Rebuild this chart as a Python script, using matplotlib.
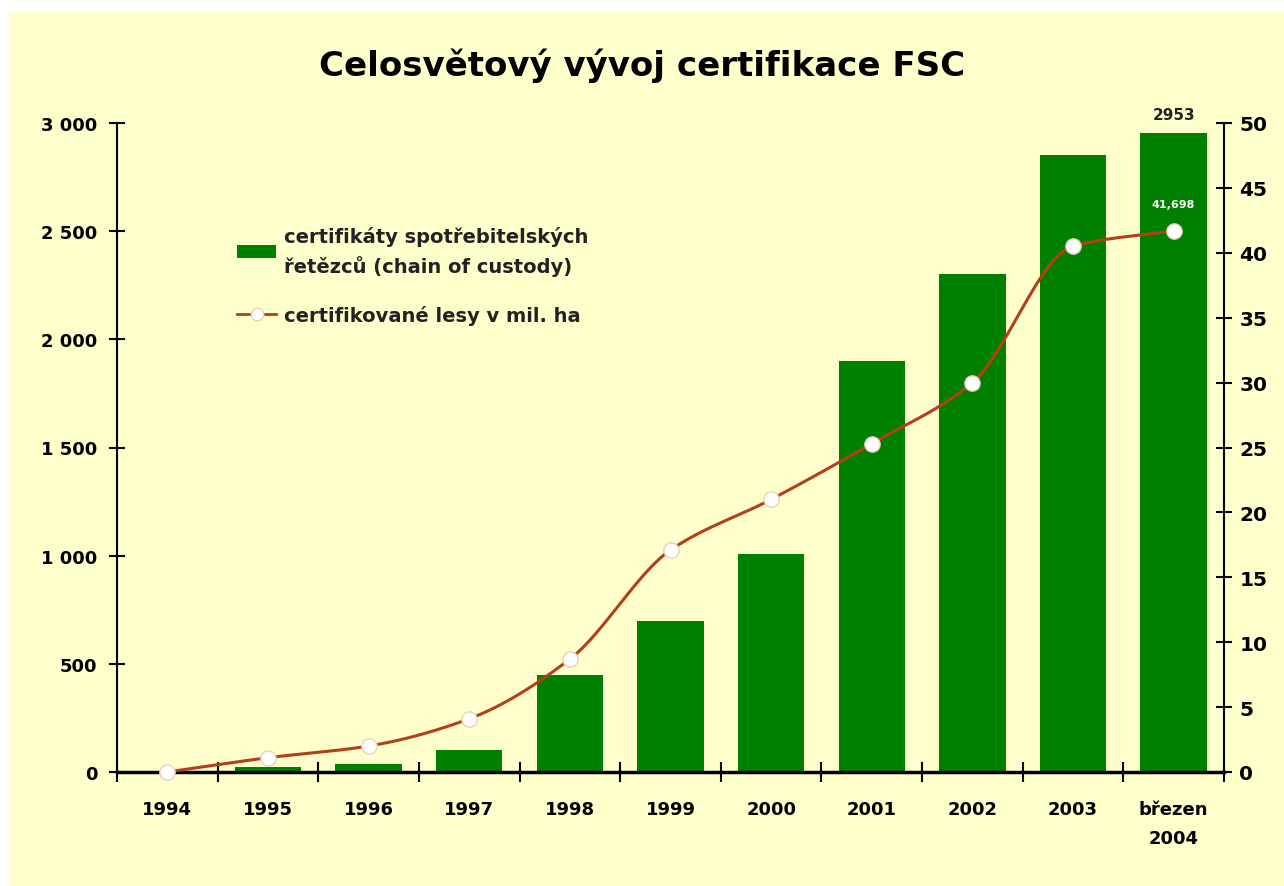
import matplotlib
matplotlib.use("Agg")
import matplotlib.pyplot as plt
from matplotlib.patches import Rectangle
from matplotlib.lines import Line2D
import numpy as np

categories = ["1994", "1995", "1996", "1997", "1998", "1999", "2000",
              "2001", "2002", "2003", "březen\n2004"]
coc_certificates = [0, 25, 38, 100, 450, 700, 1010, 1900, 2300, 2850, 2953]
forest_mil_ha = [0, 1.1, 2.0, 4.1, 8.7, 17.1, 21.0, 25.3, 30.0, 40.5, 41.7]
left_ticks = [0, 500, 1000, 1500, 2000, 2500, 3000]
left_tick_labels = ["0", "500", "1 000", "1 500", "2 000", "2 500", "3 000"]
right_ticks = [0, 5, 10, 15, 20, 25, 30, 35, 40, 45, 50]
bar_label = "2953"
line_label = "41,698"
title = "Celosvětový vývoj certifikace FSC"
legend_bar = "certifikáty spotřebitelských\nřetězců (chain of custody)"
legend_line = "certifikované lesy v mil. ha"

BG = "#FFFFCC"
GREEN = "#008000"
LINE = "#B0401A"
FONT = ["DejaVu Sans"]

fig = plt.figure(figsize=(12.84, 8.87), dpi=100)
fig.patch.set_facecolor("white")
fig.patches.append(Rectangle((9 / 1284, -0.01), 1.02, 1.01 - 12 / 887,
                             transform=fig.transFigure, facecolor=BG,
                             edgecolor="none", zorder=-10))

ax = fig.add_axes([117 / 1284, 1 - 773 / 887, (1224 - 117) / 1284, (773 - 124) / 887])
ax.set_facecolor("none")
x = np.arange(len(categories))
ax.bar(x, coc_certificates, width=0.66, color=GREEN, zorder=2)
ax.set_xlim(-0.5, len(categories) - 0.5)
ax.set_ylim(0, 3000)
ax.set_yticks(left_ticks)
ax.set_yticklabels(left_tick_labels)
ax.set_xticks(np.arange(len(categories) + 1) - 0.5)
ax.set_xticklabels([])
ax.set_xticks(x, minor=True)
ax.set_xticklabels(categories, minor=True)
ax.tick_params(axis="x", which="minor", length=0, pad=20)
ax.tick_params(axis="x", which="major", direction="inout", length=14, width=1.5)
ax.tick_params(axis="y", direction="inout", length=12, width=1.5, pad=8)
for lab in ax.get_xticklabels(minor=True):
    lab.set_fontfamily(FONT)
    lab.set_fontweight("bold")
    lab.set_fontsize(13)
    lab.set_linespacing(1.8)
for lab in ax.get_yticklabels():
    lab.set_fontfamily(FONT)
    lab.set_fontweight("bold")
    lab.set_fontsize(13)
for s in ["top", "right"]:
    ax.spines[s].set_visible(False)
ax.spines["left"].set_linewidth(1.5)
ax.spines["bottom"].set_linewidth(2.5)
ax.spines["bottom"].set_zorder(5)

ax2 = ax.twinx()
ax2.set_ylim(0, 50)
ax2.set_yticks(right_ticks)
ax2.tick_params(axis="y", direction="inout", length=12, width=1.5, pad=5)
for lab in ax2.get_yticklabels():
    lab.set_fontfamily(FONT)
    lab.set_fontweight("bold")
    lab.set_fontsize(14.5)
for s in ["top", "left", "bottom"]:
    ax2.spines[s].set_visible(False)
ax2.spines["right"].set_linewidth(1.5)

# monotone cubic (Fritsch-Carlson) smoothing through the points
px = np.array(x, dtype=float)
py = np.array(forest_mil_ha, dtype=float)
h = np.diff(px)
d = np.diff(py) / h
m = np.zeros_like(py)
m[0], m[-1] = d[0], d[-1]
for i in range(1, len(py) - 1):
    if d[i - 1] * d[i] <= 0:
        m[i] = 0
    else:
        m[i] = 2 / (1 / d[i - 1] + 1 / d[i])
sx, sy = [], []
for i in range(len(px) - 1):
    t = np.linspace(0, 1, 25)
    h00 = 2 * t ** 3 - 3 * t ** 2 + 1
    h10 = t ** 3 - 2 * t ** 2 + t
    h01 = -2 * t ** 3 + 3 * t ** 2
    h11 = t ** 3 - t ** 2
    sx.extend(px[i] + t * h[i])
    sy.extend(h00 * py[i] + h10 * h[i] * m[i] + h01 * py[i + 1] + h11 * h[i] * m[i + 1])
ax2.plot(sx, sy, color=LINE, lw=2.2, zorder=3, clip_on=False)
ax2.plot(px, py, ls="none", marker="o", ms=11, mfc="white", mec="#E8D0C0",
         mew=1, zorder=4, clip_on=False)

ax.text(x[-1], coc_certificates[-1] + 50, bar_label, ha="center", va="bottom",
        fontsize=11, fontweight="bold", fontfamily=FONT, color="#222222")
ax2.text(x[-1], forest_mil_ha[-1] + 1.7, line_label, ha="center", va="bottom",
         fontsize=8, fontweight="bold", fontfamily=FONT, color="white")

fig.text(0.5, 1 - 66 / 887, title, ha="center", va="center", fontsize=24.5,
         fontweight="heavy", fontfamily=FONT)

handles = [Rectangle((0, 0), 1, 1, facecolor=GREEN, edgecolor="none"),
           Line2D([], [], color=LINE, lw=2, marker="o", ms=9, mfc="white", mec="#E8D0C0")]
leg = ax.legend(handles, [legend_bar, legend_line], loc="upper left",
                bbox_to_anchor=(0.093, 0.868), frameon=False, handlelength=2.0,
                handleheight=0.7, labelspacing=1.5, handletextpad=0.4,
                prop={"family": FONT, "weight": "bold", "size": 14})
for t in leg.get_texts():
    t.set_color("#222222")
    t.set_linespacing(1.5)

fig.savefig("out.png", dpi=100, facecolor=fig.get_facecolor())
